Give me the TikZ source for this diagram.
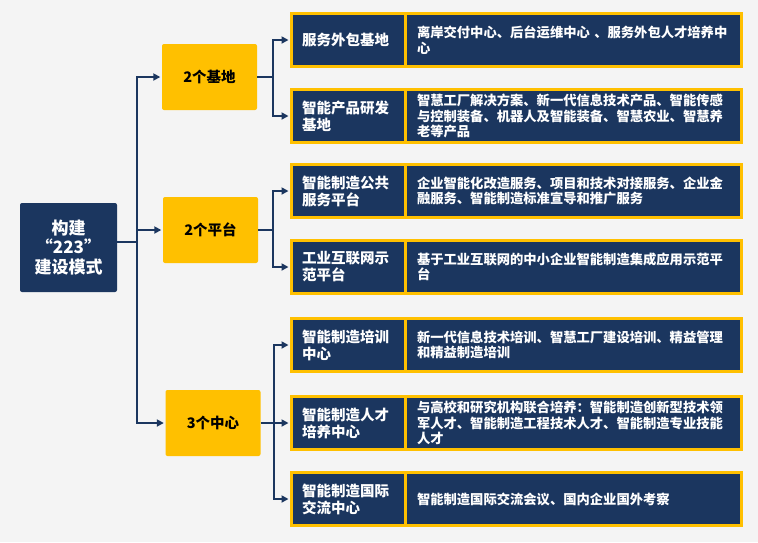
\documentclass[tikz,border=0pt]{standalone}
\usepackage{fontspec}
\setmainfont{Noto Sans CJK SC}
\usetikzlibrary{arrows.meta}
\definecolor{navy}{HTML}{1B365F}
\definecolor{gold}{HTML}{FFC000}
\definecolor{bggray}{HTML}{F4F4F4}
\begin{document}
\begin{tikzpicture}[x=1pt,y=-1pt,
  rootbox/.style={fill=navy, rounded corners=2pt, text=white, align=center, inner sep=0pt,
    minimum width=97pt, minimum height=89pt, font=\bfseries\fontsize{17}{19.5}\selectfont},
  groupbox/.style={fill=gold, rounded corners=2pt, inner sep=0pt,
    minimum width=95pt, minimum height=66pt, font=\bfseries\fontsize{14.5}{17}\selectfont},
  labelbox/.style={draw=gold, line width=3pt, fill=navy, text=white, align=left,
    inner xsep=10.5pt, inner ysep=0pt, text width=92.5pt, minimum height=53pt,
    font=\bfseries\fontsize{14.5}{17}\selectfont},
  descbox/.style={draw=gold, line width=3pt, fill=navy, text=white, align=left,
    inner xsep=12pt, inner ysep=0pt, text width=312.5pt, minimum height=53pt,
    font=\bfseries\fontsize{13.3}{15.6}\selectfont},
  conn/.style={draw=navy, line width=2pt},
  arr/.style={conn, -{Triangle[length=7pt,width=7pt]}, shorten >=1.5pt}]
\fill[bggray] (0,0) rectangle (758,542);

\node[rootbox] (root) at (68.5,247.5) {构建\\“223”\\建设模式};

\node[groupbox] (base) at (209.5,77) {2个基地};
\node[groupbox] (plat) at (210.5,230) {2个平台};
\node[groupbox] (cent) at (213,423) {3个中心};

\node[labelbox] (c1) at (348.25,40) {服务外包基地};
\node[descbox] (d1) at (573.25,40) {离岸交付中心、后台运维中心 、服务外包人才培养中\\心};
\node[labelbox] (c2) at (348.25,116) {智能产品研发\\基地};
\node[descbox] (d2) at (573.25,116) {智慧工厂解决方案、新一代信息技术产品、智能传感\\与控制装备、机器人及智能装备、智慧农业、智慧养\\老等产品};
\node[labelbox] (c3) at (348.25,191) {智能制造公共\\服务平台};
\node[descbox] (d3) at (573.25,191) {企业智能化改造服务、项目和技术对接服务、企业金\\融服务、智能制造标准宣导和推广服务};
\node[labelbox] (c4) at (348.25,267) {工业互联网示\\范平台};
\node[descbox] (d4) at (573.25,267) {基于工业互联网的中小企业智能制造集成应用示范平\\台};
\node[labelbox] (c5) at (348.25,345) {智能制造培训\\中心};
\node[descbox] (d5) at (573.25,345) {新一代信息技术培训、智慧工厂建设培训、精益管理\\和精益制造培训};
\node[labelbox] (c6) at (348.25,423) {智能制造人才\\培养中心};
\node[descbox] (d6) at (573.25,423) {与高校和研究机构联合培养：智能制造创新型技术领\\军人才、智能制造工程技术人才、智能制造专业技能\\人才};
\node[labelbox] (c7) at (348.25,499) {智能制造国际\\交流中心};
\node[descbox] (d7) at (573.25,499) {智能制造国际交流会议、国内企业国外考察};

\coordinate (tk) at (137,242);
\draw[conn] (root.east |- tk) -- (tk);
\draw[arr] (tk) |- (base.west);
\draw[arr] (tk) |- (plat.west);
\draw[arr] (tk) |- (cent.west);

\draw[conn] (base.east) -- ++(16,0) coordinate (j1);
\draw[arr] (j1) |- (c1.west);
\draw[arr] (j1) |- (c2.west);
\draw[conn] (plat.east) -- ++(15,0) coordinate (j2);
\draw[arr] (j2) |- (c3.west);
\draw[arr] (j2) |- (c4.west);
\draw[conn] (cent.east) -- ++(13,0) coordinate (j3);
\draw[arr] (j3) |- (c5.west);
\draw[arr] (j3) |- (c6.west);
\draw[arr] (j3) |- (c7.west);
\end{tikzpicture}
\end{document}
